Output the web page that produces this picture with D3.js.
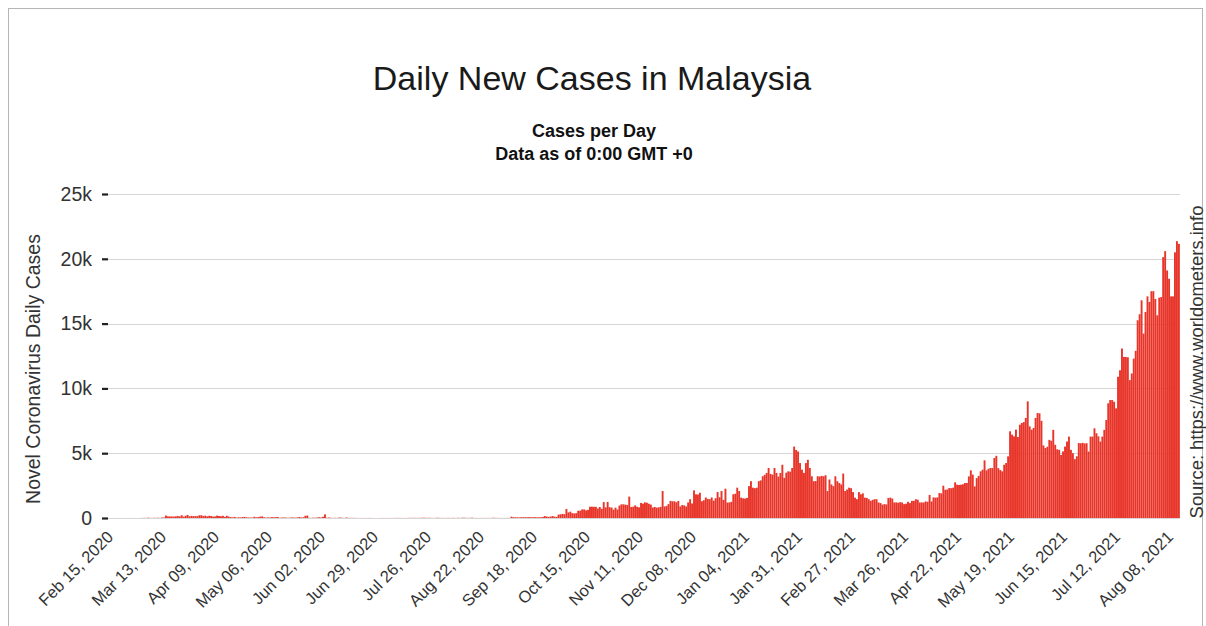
<!DOCTYPE html>
<html>
<head>
<meta charset="utf-8">
<script src="https://cdn.jsdelivr.net/npm/d3@7"></script>
<style>
  html, body { margin: 0; padding: 0; background: #fff; }
  svg { display: block; }
  text { font-family: "Liberation Sans", Arial, sans-serif; }
</style>
</head>
<body>
<svg id="chart" width="1206" height="626"></svg>
<script>
// ---------------- DATA (daily new cases, one value per day, from Feb 15, 2020) ----------------
const startDate = "2020-02-15";
const feb2020 = [0,0,0,0,0,0,0,0,0,0,0,0,1,2,0];
const mar2020 = [0,4,7,14,5,28,10,6,18,12,20,9,39,41,190,125,120,117,110,130,153,123,212,106,172,235,130,159,150,140,142];
const apr2020 = [208,217,150,179,131,170,156,109,118,184,153,134,170,85,170,110,69,54,84,36,57,50,71,88,51,38,40,31,94,57];
const may2020 = [69,105,122,55,30,45,39,68,54,67,70,16,37,40,36,17,22,47,37,31,50,78,48,60,172,187,15,10,30,20,38];
const jun2020 = [57,38,93,277,19,37,19,7,19,2,31,33,12,5,41,6,8,11,10,6,3,3,5,2,4,4,9,2,3,0];
const jul2020 = [1,3,2,6,2,3,7,4,5,7,10,6,5,3,4,5,12,8,15,11,7,10,15,23,21,9,17,10,5,6,19];
const aug2020 = [14,7,9,3,8,11,2,16,7,5,16,2,25,20,8,9,11,25,4,6,2,4,3,7,4,8,2,10,21,8,6];
const sep2020 = [8,2,5,6,6,6,100,62,58,54,47,66,58,62,55,71,54,60,63,52,58,57,82,147,111,82,115,150,101,89];
const oct2020 = [260,287,317,293,691,432,489,374,354,374,561,563,660,660,589,629,869,871,865,862,732,847,710,1228,823,1240,835,801,649,799,659];
const nov2020 = [957,1054,1054,1032,1009,1650,852,869,972,869,822,1162,1109,1208,1180,1103,1035,808,849,800,820,860,2080,890,930,1071,1315,1290,1290,1212];
const dec2020 = [1320,890,1003,970,890,1200,1450,1123,2130,1830,1810,1950,1295,1371,1580,1475,1450,1580,1340,1525,2000,1600,2080,1400,2260,1196,1200,1247,1830,1870,2340];
const jan2021 = [2080,1570,1520,1500,1550,2460,2840,2340,2300,2340,2840,2900,3220,3330,3480,3860,3400,3350,3860,3480,3200,3480,4110,3100,3500,3600,3580,3860,5510,5250,5130];
const feb2021 = [4240,3730,3480,4240,4490,3860,3220,2840,2850,3220,3200,3250,3220,3300,2080,2970,2590,2460,3220,2840,2700,2590,3430,2080,2200,2340,2300,2000];
const mar2021 = [1570,1450,2000,1830,1900,1570,1550,1450,1320,1400,1450,1450,1200,1150,1030,1070,1050,1540,1570,1500,1200,1200,1180,1220,1200,1070,1100,1250,1150,1320,1320];
const apr2021 = [1450,1410,1200,1200,1200,1280,1250,1780,1280,1590,1570,1590,1930,1900,2490,2180,2200,2310,2300,2340,2750,2570,2550,2570,2600,2700,2700,3210,3680,3350];
const may2021 = [2440,3080,3250,3600,3730,4450,3680,3800,3860,3850,4630,4800,3850,3700,3600,4110,4240,4760,6690,6430,6300,6820,6250,7200,7330,7400,7720,9000,7070,6820,6950];
const jun2021 = [7720,8100,8077,7500,5600,5400,5500,6030,5960,6800,5650,5300,5260,4870,5140,5510,5900,6280,5260,5000,4540,4760,5780,5770,5800,5750,5770,5130,6280,6280];
const jul2021 = [6920,6540,6300,5900,6280,6800,7560,8850,9100,9100,8970,8460,10900,11400,13080,12430,12430,12400,10640,11150,12300,12900,15260,15720,16800,14230,15900,17100,16670,17500,17500];
const aug2021 = [16900,15640,17000,17050,20130,20590,19100,18460,17100,17100,20500,21360,21150];

const yTicks = [0, 5000, 10000, 15000, 20000, 25000];
const yTickLabels = ["0", "5k", "10k", "15k", "20k", "25k"];
const labelEvery = 27;

const titleText = "Daily New Cases in Malaysia";
const subtitleLines = ["Cases per Day", "Data as of 0:00 GMT +0"];
const yAxisTitle = "Novel Coronavirus Daily Cases";
const sourceText = "Source: https://www.worldometers.info";

// ---------------- BUILD ----------------
const values = [].concat(feb2020, mar2020, apr2020, may2020, jun2020, jul2020, aug2020, sep2020,
  oct2020, nov2020, dec2020, jan2021, feb2021, mar2021, apr2021, may2021, jun2021, jul2021, aug2021);
const parse = d3.timeParse("%Y-%m-%d");
const start = parse(startDate);
const data = values.map((v, i) => ({ i, date: d3.timeDay.offset(start, i), value: v }));
const fmt = d3.timeFormat("%b %d, %Y");

const W = 1206, H = 626;
const plot = { left: 108, right: 1180, top: 194, bottom: 518 };

const svg = d3.select("#chart");
svg.append("rect").attr("x", 0).attr("y", 0).attr("width", W).attr("height", H).attr("fill", "#fff");
svg.append("rect").attr("x", 8.5).attr("y", 8.5).attr("width", 1194).attr("height", 700)
  .attr("fill", "none").attr("stroke", "#b5b5b5").attr("stroke-width", 1);

const x = d3.scaleBand().domain(data.map(d => d.i)).range([plot.left, plot.right]).paddingInner(0).paddingOuter(0.05);
const y = d3.scaleLinear().domain([0, 25000]).range([plot.bottom, plot.top]);

// grid lines
svg.append("g").selectAll("line").data(yTicks).join("line")
  .attr("x1", plot.left).attr("x2", plot.right)
  .attr("y1", d => Math.round(y(d)) + 0.5).attr("y2", d => Math.round(y(d)) + 0.5)
  .attr("stroke", "#d6d6d6").attr("stroke-width", 1);

// y axis tick dashes + labels
const yAxis = d3.axisLeft(y).tickValues(yTicks).tickFormat((d, k) => yTickLabels[k]).tickSize(6).tickPadding(10);
const gy = svg.append("g").attr("transform", `translate(${plot.left},0)`).call(yAxis);
gy.select(".domain").remove();
gy.selectAll(".tick line").attr("stroke", "#222").attr("stroke-width", 2.2);
gy.selectAll(".tick text").attr("font-size", 19.5).attr("fill", "#333")
  .attr("font-family", "'Liberation Sans', Arial, sans-serif");

// bars
svg.append("g").selectAll("rect").data(data).join("rect")
  .attr("x", d => x(d.i))
  .attr("width", x.bandwidth() * 0.97)
  .attr("y", d => y(d.value))
  .attr("height", d => plot.bottom - y(d.value))
  .attr("fill", "#e8352a");

// x axis labels
const xTickIdx = data.filter(d => d.i % labelEvery === 0).map(d => d.i);
const xAxis = d3.axisBottom(x).tickValues(xTickIdx).tickFormat(i => fmt(data[i].date)).tickSize(0);
const gx = svg.append("g").attr("transform", `translate(0,${plot.bottom})`).call(xAxis);
gx.select(".domain").remove();
gx.selectAll(".tick text")
  .attr("font-size", 16.5).attr("fill", "#333")
  .attr("font-family", "'Liberation Sans', Arial, sans-serif")
  .attr("text-anchor", "end")
  .attr("dy", 0)
  .attr("transform", "translate(3,18) rotate(-45)");

// titles
svg.append("text").attr("x", 592).attr("y", 90).attr("text-anchor", "middle")
  .attr("font-size", 34).attr("fill", "#1a1a1a").text(titleText);
svg.selectAll(".sub").data(subtitleLines).join("text").attr("class", "sub")
  .attr("x", 594).attr("y", (d, k) => 137 + k * 23).attr("text-anchor", "middle")
  .attr("font-size", 18).attr("font-weight", "bold").attr("fill", "#111").text(d => d);

svg.append("text").attr("transform", "translate(40,369) rotate(-90)").attr("text-anchor", "middle")
  .attr("font-size", 19.5).attr("fill", "#333").text(yAxisTitle);
svg.append("text").attr("transform", "translate(1203,362) rotate(-90)").attr("text-anchor", "middle")
  .attr("font-size", 18.4).attr("fill", "#333").text(sourceText);
</script>
</body>
</html>
